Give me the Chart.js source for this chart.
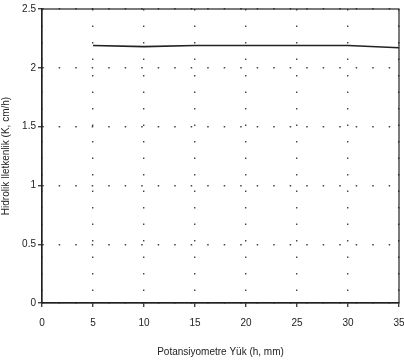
<!DOCTYPE html>
<html>
<head>
<meta charset="utf-8">
<script src="https://cdn.jsdelivr.net/npm/chart.js@4"></script>
<style>
  html, body { margin: 0; padding: 0; background: #fff; }
  #wrap { width: 404px; height: 362px; }
</style>
</head>
<body>
<div id="wrap"><canvas id="c" width="404" height="362"></canvas></div>
<script>
// ── Data ─────────────────────────────────────────────────────────────────────
const heads  = [5, 10, 15, 20, 25, 30, 35];                 // h, mm
const kValues = [2.19, 2.18, 2.19, 2.19, 2.19, 2.19, 2.17]; // K, cm/h
const yTickLabels = { 0: '0', 0.5: '0.5', 1: '1', 1.5: '1.5', 2: '2', 2.5: '2.5' };

const ink  = '#222';
const font = { family: 'Liberation Sans, Arial, sans-serif', size: 10 };

// frame round the plot area (top and right edges)
const framePlugin = {
  id: 'frame',
  afterDraw(chart) {
    const { ctx, chartArea: a } = chart;
    ctx.save();
    ctx.strokeStyle = ink;
    ctx.lineWidth = 1.2;
    ctx.strokeRect(a.left, a.top, a.right - a.left, a.bottom - a.top);
    ctx.restore();
  }
};

new Chart(document.getElementById('c'), {
  type: 'line',
  data: {
    datasets: [{
      data: heads.map((h, i) => ({ x: h, y: kValues[i] })),
      borderColor: ink, borderWidth: 1.6,
      pointRadius: 0, tension: 0, fill: false
    }]
  },
  options: {
    responsive: false, animation: false,
    layout: { padding: { top: 9, right: 5, left: 0, bottom: 0 } },
    plugins: { legend: { display: false }, tooltip: { enabled: false } },
    scales: {
      x: {
        type: 'linear', min: 0, max: 35,
        ticks: { stepSize: 5, color: ink, font, padding: 10, maxRotation: 0 },
        grid: { color: '#444', lineWidth: 1.4, tickLength: 4, drawTicks: true },
        border: { color: ink, width: 1.2, dash: [1.5, 15] },
        title: { display: true, text: 'Potansiyometre Yük (h, mm)', color: ink, font, padding: { top: 4 } },
        afterFit: s => { s.height = 59; s.paddingLeft = 0; s.paddingRight = 0; }
      },
      y: {
        min: 0, max: 2.5,
        ticks: { stepSize: 0.5, color: ink, font, padding: 2, callback: v => yTickLabels[v] ?? '' },
        grid: { color: '#444', lineWidth: 1.4, tickLength: 4 },
        border: { color: ink, width: 1.2, dash: [1.5, 15] },
        title: { display: true, text: 'Hidrolik İletkenlik (K, cm/h)', color: ink, font, padding: 0 },
        afterFit: s => { s.width = 42; s.paddingTop = 0; s.paddingBottom = 0; }
      }
    }
  },
  plugins: [framePlugin]
});
</script>
</body>
</html>
